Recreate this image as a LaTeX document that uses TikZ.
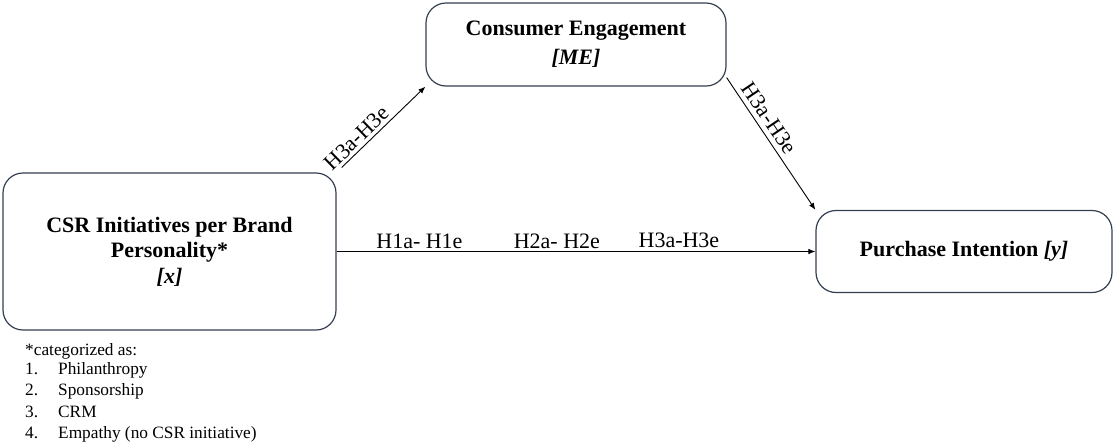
\documentclass[tikz,border=0pt]{standalone}
\usepackage{fontspec}
\setmainfont{Liberation Serif}
\usetikzlibrary{arrows.meta}
\definecolor{boxline}{RGB}{52,62,82}
\tikzset{
  varbox/.style={draw=boxline, line width=1.2pt, rounded corners=20pt, align=center,
    font=\fontsize{22}{26}\selectfont\bfseries, inner sep=0pt},
  arr/.style={draw=black, line width=0.9pt, -{Latex[length=7pt,width=5.5pt]}},
  hyp/.style={font=\fontsize{22}{26}\selectfont},
  note/.style={font=\fontsize{17.3}{20}\selectfont, anchor=base west, inner sep=0pt}
}
\begin{document}
\begin{tikzpicture}[x=1pt,y=-1pt]
\useasboundingbox (0,0) rectangle (1115,445);
% variables
\node[varbox, minimum width=333pt, minimum height=157pt] (L) at (169.5,251.5)
  {CSR Initiatives per Brand\\[-1pt] Personality*\\[0pt] \textit{[x]}};
\node[varbox, minimum width=300pt, minimum height=83pt] (T) at (576,44.5)
  {Consumer Engagement\\[3pt] \textit{[ME]}};
\node[varbox, minimum width=296pt, minimum height=82pt] (R) at (964,251.5)
  {Purchase Intention \textit{[y]}};
% paths
\draw[arr, shorten <=7pt] (L.north east) -- (T.south west)
  node[hyp, pos=0.31, above, sloped, inner sep=3pt] (la) {H3a-H3e};
\draw[arr] ([yshift=9pt]T.south east) -- (R.north west)
  node[hyp, pos=0.36, above, sloped, inner sep=5pt] (lb) {H3a-H3e};
\draw[arr] (L.east) -- (R.west)
  node[hyp, pos=0.173, above, inner sep=2.5pt] (h1) {H1a- H1e}
  node[hyp, pos=0.46, above, inner sep=2.5pt] (h2) {H2a- H2e}
  node[hyp, pos=0.715, above, inner sep=3.5pt] (h3) {H3a-H3e};
% footnote
\node[note] (n0) at (25,355) {*categorized as:};
\node[note] (n1) at (25,374) {1.};
\node[note] (i1) at (58,374) {Philanthropy};
\node[note] (n2) at (25,395.5) {2.};
\node[note] (i2) at (58,395.5) {Sponsorship};
\node[note] (n3) at (25,417) {3.};
\node[note] (i3) at (58,417) {CRM};
\node[note] (n4) at (25,438) {4.};
\node[note] (i4) at (58,438) {Empathy (no CSR initiative)};
\end{tikzpicture}
\end{document}
